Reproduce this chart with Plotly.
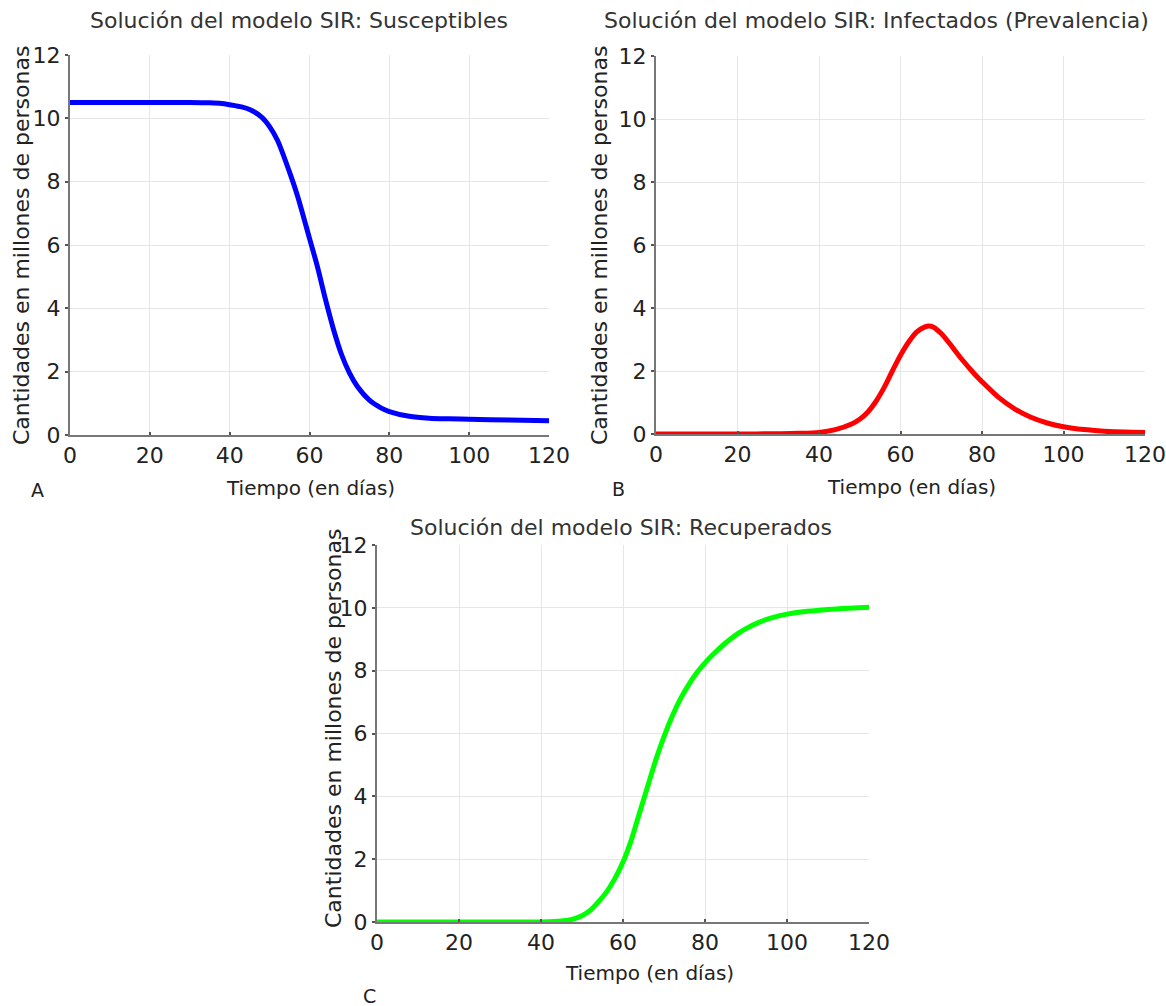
import plotly.graph_objects as go

# ---- data ----
dias_s = [0, 10, 20, 30, 35, 38, 40, 43, 45, 48, 50, 52, 55, 57, 60, 62, 64, 66, 68, 70, 72, 75, 78, 80, 85, 90, 95, 100, 110, 120]
susceptibles = [10.5, 10.5, 10.5, 10.5, 10.49, 10.47, 10.43, 10.36, 10.28, 10.04, 9.74, 9.3, 8.3, 7.55, 6.21, 5.31, 4.28, 3.34, 2.55, 1.96, 1.53, 1.1, 0.85, 0.74, 0.59, 0.53, 0.51, 0.5, 0.47, 0.45]

dias_i = [0, 10, 20, 30, 35, 40, 44, 48, 50, 52, 54, 56, 58, 60, 62, 64, 66, 67, 68, 70, 72, 75, 78, 80, 84, 88, 92, 96, 100, 105, 110, 115, 120]
infectados = [0.0, 0.0, 0.0, 0.01, 0.02, 0.05, 0.14, 0.32, 0.47, 0.7, 1.04, 1.48, 2.0, 2.5, 2.92, 3.24, 3.4, 3.43, 3.4, 3.19, 2.88, 2.38, 1.93, 1.66, 1.17, 0.8, 0.53, 0.35, 0.23, 0.14, 0.09, 0.06, 0.05]

dias_r = [0, 10, 20, 30, 40, 45, 48, 50, 52, 54, 56, 58, 60, 62, 64, 66, 68, 70, 72, 74, 76, 78, 80, 82, 85, 88, 90, 93, 96, 100, 105, 110, 115, 120]
recuperados = [0.0, 0.0, 0.0, 0.0, 0.0, 0.03, 0.1, 0.2, 0.37, 0.64, 0.96, 1.38, 1.91, 2.6, 3.46, 4.31, 5.16, 5.9, 6.55, 7.1, 7.55, 7.93, 8.25, 8.52, 8.88, 9.18, 9.34, 9.53, 9.67, 9.8, 9.89, 9.95, 9.99, 10.02]

x_ticks = [0, 20, 40, 60, 80, 100, 120]
y_ticks = [0, 2, 4, 6, 8, 10, 12]

titulos = ["Solución del modelo SIR: Susceptibles",
           "Solución del modelo SIR: Infectados (Prevalencia)",
           "Solución del modelo SIR: Recuperados"]
titulo_x = "Tiempo (en días)"
titulo_y = "Cantidades en millones de personas"
letras = ["A", "B", "C"]

W, H = 1166, 1006
FONT = "DejaVu Sans"

fig = go.Figure()

series = [(dias_s, susceptibles, "#0000ff", "x", "y"),
          (dias_i, infectados, "#ff0000", "x2", "y2"),
          (dias_r, recuperados, "#00ff00", "x3", "y3")]
for xs, ys, col, xa, ya in series:
    fig.add_trace(go.Scatter(x=xs, y=ys, mode="lines", xaxis=xa, yaxis=ya,
                             line=dict(color=col, width=5, shape="spline", smoothing=0.8),
                             cliponaxis=False, showlegend=False, hoverinfo="skip"))

# panel pixel boxes (left, right, top, bottom)
boxes = [(70, 549, 55, 435), (656, 1145, 56, 434), (377, 869, 545, 922)]

def ax_common():
    return dict(showgrid=True, gridcolor="#e6e6e6", gridwidth=1, zeroline=False,
                showline=True, linecolor="#777777", linewidth=2, automargin=False,
                tickcolor="#555555", tickwidth=1.5,
                tickfont=dict(family=FONT, size=22, color="#222222"))

names = [("xaxis", "yaxis", "y", "x"), ("xaxis2", "yaxis2", "y2", "x2"), ("xaxis3", "yaxis3", "y3", "x3")]
layout = {}
for (l, r, t, b), (xn, yn, anc_y, anc_x) in zip(boxes, names):
    xa = ax_common()
    xa.update(domain=[l / W, r / W], range=[0, 120], tickvals=x_ticks, anchor=anc_y,
              ticks="inside", ticklen=3)
    ya = ax_common()
    ya.update(domain=[1 - b / H, 1 - t / H], range=[0, 12], tickvals=y_ticks, anchor=anc_x,
              ticks="outside", ticklen=3)
    layout[xn] = xa
    layout[yn] = ya

fig.update_layout(**layout)

ann = []
title_pos = [(299, 20), (876, 20), (621, 527)]
xt_pos = [(310, 488), (911, 487), (650, 973)]
yt_pos = [(21, 246), (599, 246), (333, 729)]
let_pos = [(37, 490), (618, 489), (369, 996)]
for i in range(3):
    ann.append(dict(text=titulos[i], x=title_pos[i][0] / W, y=1 - title_pos[i][1] / H, xref="paper", yref="paper",
                    showarrow=False, xanchor="center", yanchor="middle",
                    font=dict(family=FONT, size=22, color="#333333")))
    ann.append(dict(text=titulo_x, x=xt_pos[i][0] / W, y=1 - xt_pos[i][1] / H, xref="paper", yref="paper",
                    showarrow=False, xanchor="center", yanchor="middle",
                    font=dict(family=FONT, size=20, color="#222222")))
    ann.append(dict(text=titulo_y, x=yt_pos[i][0] / W, y=1 - yt_pos[i][1] / H, xref="paper", yref="paper",
                    showarrow=False, xanchor="center", yanchor="middle", textangle=-90,
                    font=dict(family=FONT, size=22, color="#222222")))
    ann.append(dict(text=letras[i], x=let_pos[i][0] / W, y=1 - let_pos[i][1] / H, xref="paper", yref="paper",
                    showarrow=False, xanchor="center", yanchor="middle",
                    font=dict(family=FONT, size=19, color="#222222")))

fig.update_layout(width=W, height=H, margin=dict(l=0, r=0, t=0, b=0, autoexpand=False),
                  paper_bgcolor="white", plot_bgcolor="white", annotations=ann,
                  showlegend=False)

fig.write_html("out.html", config={"displayModeBar": False},
               post_script="document.body.style.margin='0';document.body.style.overflow='hidden';")
